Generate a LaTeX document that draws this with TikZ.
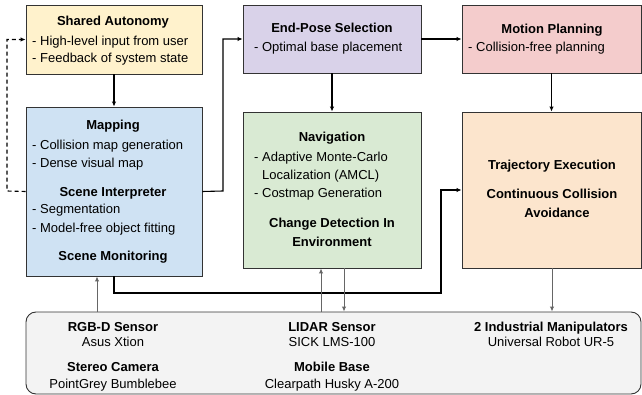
\documentclass[tikz,border=0pt]{standalone}
\usepackage{fontspec}
\setmainfont{Liberation Sans}
\usetikzlibrary{arrows.meta}
\definecolor{cshared}{HTML}{FFF2CC}
\definecolor{cmap}{HTML}{CFE2F3}
\definecolor{cpose}{HTML}{D9D2E9}
\definecolor{cmotion}{HTML}{F4CCCC}
\definecolor{cnav}{HTML}{D9EAD3}
\definecolor{ctraj}{HTML}{FCE5CD}
\definecolor{chw}{HTML}{F3F3F3}
\definecolor{boxline}{HTML}{333333}
\definecolor{garrowc}{HTML}{666666}
\begin{document}
\begin{tikzpicture}[x=1pt,y=-1pt,
  font=\fontsize{13}{15}\selectfont,
  box/.style={draw=boxline, line width=0.9pt, inner sep=0pt},
  conn/.style={draw=black, line width=1.1pt, -{Latex[length=5pt,width=4.5pt]}},
  dconn/.style={conn, dash pattern=on 4pt off 3pt},
  garrow/.style={draw=garrowc, line width=1pt, -{Latex[length=5pt,width=4.5pt]}},
  tl/.style={anchor=base west, inner sep=0pt},
  tc/.style={anchor=base, inner sep=0pt},
  tb/.style={anchor=base, inner sep=0pt, font=\fontsize{13}{15}\selectfont\bfseries}]
\useasboundingbox (0,0) rectangle (642,395);
% boxes
\node[box, fill=cshared, minimum width=176pt, minimum height=69pt] (shared) at (114,39.5) {};
\node[box, fill=cmap, minimum width=176pt, minimum height=169pt] (mapping) at (114,191.5) {};
\node[box, fill=cpose, minimum width=178pt, minimum height=68pt] (endpose) at (332,39) {};
\node[box, fill=cnav, minimum width=178pt, minimum height=156pt] (nav) at (332,190) {};
\node[box, fill=cmotion, minimum width=179pt, minimum height=68pt] (motion) at (551.5,39) {};
\node[box, fill=ctraj, minimum width=179pt, minimum height=156pt] (traj) at (551.5,190) {};
\node[box, fill=chw, rounded corners=10pt, minimum width=615pt, minimum height=82pt] (hw) at (333.5,353) {};
% texts: shared autonomy
\node[tb] (t1) at (113,25.5) {Shared Autonomy};
\node[tl] (t2) at (32,45.5) {- High-level input from user};
\node[tl] (t3) at (32,62.5) {- Feedback of system state};
% mapping
\node[tb] (t4) at (113,129.5) {Mapping};
\node[tl] (t5) at (32,149.5) {- Collision map generation};
\node[tl] (t6) at (32,167.5) {- Dense visual map};
\node[tb] (t7) at (113,196.5) {Scene Interpreter};
\node[tl] (t8) at (32,213.5) {- Segmentation};
\node[tl] (t9) at (32,232.5) {- Model-free object fitting};
\node[tb] (t10) at (113,260.5) {Scene Monitoring};
% end-pose
\node[tb] (t11) at (332,32.5) {End-Pose Selection};
\node[tl] (t12) at (254,51.5) {- Optimal base placement};
% navigation
\node[tb] (t13) at (332,141.5) {Navigation};
\node[tl] (t14) at (254,161.5) {- Adaptive Monte-Carlo};
\node[tl] (t15) at (262,179.5) {Localization (AMCL)};
\node[tl] (t16) at (254,197.5) {- Costmap Generation};
\node[tb] (t17) at (332,227.5) {Change Detection In};
\node[tb] (t18) at (332,246.5) {Environment};
% motion planning
\node[tb] (t19) at (552,33.5) {Motion Planning};
\node[tl] (t20) at (468,51.5) {- Collision-free planning};
% trajectory
\node[tb] (t21) at (552,169.5) {Trajectory Execution};
\node[tb] (t22) at (552,198.5) {Continuous Collision};
\node[tb] (t23) at (557,217.5) {Avoidance};
% hardware
\node[tb] (h1) at (113,331.5) {RGB-D Sensor};
\node[tc] (h2) at (113,346.5) {Asus Xtion};
\node[tb] (h3) at (113,371.5) {Stereo Camera};
\node[tc] (h4) at (113,388.5) {PointGrey Bumblebee};
\node[tb] (h5) at (332,331.5) {LIDAR Sensor};
\node[tc] (h6) at (332,346.5) {SICK LMS-100};
\node[tb] (h7) at (332,371.5) {Mobile Base};
\node[tc] (h8) at (332,388.5) {Clearpath Husky A-200};
\node[tb] (h9) at (551,331.5) {2 Industrial Manipulators};
\node[tc] (h10) at (551,346.5) {Universal Robot UR-5};
% connectors
\draw[conn] (shared.south) -- (mapping.north);
\draw[conn] (endpose.south) -- (nav.north);
\draw[conn] (motion.south) -- (traj.north);
\draw[conn] (endpose.east) -- (motion.west);
\coordinate (mr) at (223,191);
\draw[conn] (mapping.east) -- (mr) |- (endpose.west);
\coordinate (ml) at (7,191);
\draw[dconn] (mapping.west) -- (ml) |- (shared.west);
\coordinate (turn) at (441,293);
\draw[conn] (mapping.south) |- (turn) |- (traj.west);
% gray arrows
\coordinate (xr) at (97,0);
\coordinate (xl1) at (321,0);
\coordinate (xl2) at (344,0);
\coordinate (xt) at (552,0);
\draw[garrow] (hw.north -| xr) -- (mapping.south -| xr);
\draw[garrow] (hw.north -| xl1) -- (nav.south -| xl1);
\draw[garrow] (nav.south -| xl2) -- (hw.north -| xl2);
\draw[garrow] (traj.south -| xt) -- (hw.north -| xt);
\end{tikzpicture}
\end{document}
